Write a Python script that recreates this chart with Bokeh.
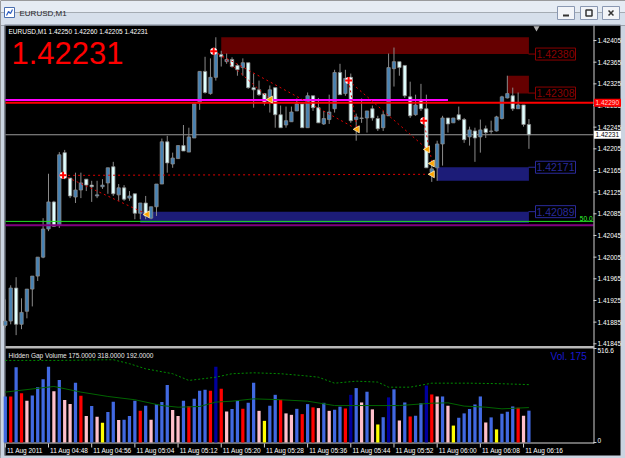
import numpy as np
from bokeh.plotting import figure
from bokeh.models import Range1d
from bokeh.embed import file_html
from bokeh.resources import INLINE
from bokeh.core.properties import value

# ---------------- data ----------------
symbol = "EURUSD"
timeframe = "M1"

opens = [1.41879, 1.41887, 1.41948, 1.41881, 1.41905, 1.41946, 1.41970, 1.42005, 1.42057, 1.42107,
         1.42064, 1.42198, 1.42151, 1.42116, 1.42129, 1.42149, 1.42138, 1.42118, 1.42135, 1.42142,
         1.42172, 1.42120, 1.42133, 1.42114, 1.42122, 1.42086, 1.42105, 1.42077, 1.42098, 1.42140,
         1.42218, 1.42177, 1.42187, 1.42211, 1.42199, 1.42225, 1.42290, 1.42348, 1.42307, 1.42337,
         1.42379, 1.42366, 1.42370, 1.42359, 1.42355, 1.42364, 1.42318, 1.42314, 1.42307, 1.42292,
         1.42318, 1.42268, 1.42249, 1.42255, 1.42275, 1.42288, 1.42244, 1.42303, 1.42281, 1.42251,
         1.42259, 1.42279, 1.42346, 1.42307, 1.42337, 1.42259, 1.42261, 1.42262, 1.42279, 1.42261,
         1.42244, 1.42266, 1.42353, 1.42366, 1.42359, 1.42301, 1.42268, 1.42296, 1.42279, 1.42161,
         1.42170, 1.42214, 1.42262, 1.42253, 1.42268, 1.42259, 1.42227, 1.42238, 1.42227, 1.42242,
         1.42237, 1.42238, 1.42261, 1.42299, 1.42303, 1.42279, 1.42286, 1.42250]
highs = [1.41927, 1.41953, 1.41968, 1.41929, 1.41946, 1.41970, 1.42005, 1.42077, 1.42159, 1.42109,
         1.42199, 1.42203, 1.42151, 1.42161, 1.42161, 1.42149, 1.42146, 1.42146, 1.42149, 1.42170,
         1.42181, 1.42140, 1.42138, 1.42127, 1.42122, 1.42105, 1.42118, 1.42098, 1.42140, 1.42224,
         1.42229, 1.42198, 1.42211, 1.42249, 1.42244, 1.42288, 1.42348, 1.42375, 1.42372, 1.42411,
         1.42386, 1.42381, 1.42374, 1.42362, 1.42372, 1.42364, 1.42344, 1.42331, 1.42307, 1.42322,
         1.42318, 1.42285, 1.42283, 1.42283, 1.42298, 1.42288, 1.42309, 1.42303, 1.42299, 1.42275,
         1.42305, 1.42351, 1.42362, 1.42351, 1.42344, 1.42270, 1.42298, 1.42275, 1.42285, 1.42266,
         1.42275, 1.42381, 1.42392, 1.42366, 1.42359, 1.42329, 1.42305, 1.42325, 1.42305, 1.42179,
         1.42220, 1.42266, 1.42262, 1.42262, 1.42283, 1.42262, 1.42246, 1.42244, 1.42259, 1.42248,
         1.42257, 1.42266, 1.42303, 1.42340, 1.42318, 1.42309, 1.42286, 1.42260]
lows = [1.41875, 1.41881, 1.41861, 1.41872, 1.41892, 1.41914, 1.41961, 1.42003, 1.42053, 1.42061,
        1.42059, 1.42149, 1.42114, 1.42105, 1.42114, 1.42127, 1.42107, 1.42114, 1.42131, 1.42122,
        1.42118, 1.42109, 1.42109, 1.42109, 1.42075, 1.42075, 1.42075, 1.42075, 1.42081, 1.42140,
        1.42161, 1.42170, 1.42187, 1.42201, 1.42199, 1.42225, 1.42277, 1.42307, 1.42305, 1.42331,
        1.42357, 1.42362, 1.42355, 1.42340, 1.42340, 1.42316, 1.42281, 1.42303, 1.42285, 1.42272,
        1.42244, 1.42244, 1.42244, 1.42255, 1.42275, 1.42244, 1.42244, 1.42275, 1.42253, 1.42249,
        1.42251, 1.42272, 1.42305, 1.42303, 1.42253, 1.42220, 1.42253, 1.42235, 1.42257, 1.42238,
        1.42238, 1.42266, 1.42320, 1.42340, 1.42299, 1.42262, 1.42266, 1.42275, 1.42170, 1.42144,
        1.42146, 1.42174, 1.42235, 1.42253, 1.42257, 1.42216, 1.42211, 1.42181, 1.42198, 1.42225,
        1.42233, 1.42237, 1.42259, 1.42298, 1.42275, 1.42279, 1.42246, 1.42205]
closes = [1.41887, 1.41948, 1.41881, 1.41903, 1.41946, 1.41970, 1.42005, 1.42057, 1.42107, 1.42062,
          1.42194, 1.42151, 1.42118, 1.42129, 1.42142, 1.42138, 1.42135, 1.42120, 1.42138, 1.42170,
          1.42122, 1.42133, 1.42112, 1.42118, 1.42086, 1.42105, 1.42081, 1.42098, 1.42140, 1.42218,
          1.42179, 1.42188, 1.42211, 1.42201, 1.42227, 1.42288, 1.42348, 1.42309, 1.42337, 1.42383,
          1.42375, 1.42370, 1.42357, 1.42351, 1.42364, 1.42318, 1.42314, 1.42305, 1.42290, 1.42314,
          1.42268, 1.42244, 1.42257, 1.42273, 1.42288, 1.42244, 1.42303, 1.42281, 1.42253, 1.42261,
          1.42273, 1.42346, 1.42305, 1.42335, 1.42257, 1.42264, 1.42262, 1.42275, 1.42262, 1.42242,
          1.42268, 1.42355, 1.42366, 1.42355, 1.42303, 1.42266, 1.42286, 1.42279, 1.42170, 1.42168,
          1.42214, 1.42262, 1.42251, 1.42262, 1.42259, 1.42222, 1.42240, 1.42225, 1.42240, 1.42235,
          1.42238, 1.42264, 1.42301, 1.42307, 1.42279, 1.42286, 1.42250, 1.42231]

volumes = [253, 253, 413, 271, 229, 258, 304, 348, 416, 282,
           343, 233, 211, 328, 257, 145, 200, 141, 108, 167,
           224, 123, 125, 145, 229, 174, 202, 125, 211, 222,
           316, 178, 145, 229, 200, 240, 284, 290, 284, 416,
           295, 171, 184, 229, 185, 218, 328, 174, 119, 202,
           262, 235, 160, 152, 185, 156, 211, 193, 189, 218,
           174, 180, 197, 187, 262, 299, 220, 279, 182, 99,
           139, 248, 292, 121, 220, 143, 147, 216, 313, 264,
           253, 253, 202, 93, 136, 160, 184, 209, 253, 110,
           138, 72, 158, 169, 198, 191, 147, 175]
# b=blue, r=red, p=pink, y=yellow, n=navy (indicator's bar classes)
volume_class = ("brbrpbbbbp" "bppbrpbpyb" "bpbbbrbpbb" "bppbrbbbrn" "rpbbrbbpyb"
                "brppbrbrpb" "pbbrnbpbpy" "bnbpbrbbnr" "pbpybbbbbp" "bybbbrpb")

vol_ma_bars = [0, 9, 14, 19, 24, 29, 32, 36, 39, 42, 46, 51, 56, 61, 67, 73, 79, 82, 85, 89, 92, 97]
vol_ma_vals = [277, 308, 277, 253, 235, 203, 194, 198, 222, 227, 240, 235, 227, 203, 203, 203, 216, 218, 200, 194, 185, 192]
vol_band_bars = [0, 10, 20, 23, 26, 31, 34, 39, 42, 46, 51, 55, 58, 61, 65, 69, 71, 75, 79, 86, 92, 97]
vol_band_vals = [451, 451, 455, 433, 405, 378, 341, 359, 378, 383, 378, 368, 359, 326, 337, 332, 304, 304, 326, 326, 323, 318]
vol_axis_max = 516.6

time_tick_bars = [0, 8, 16, 24, 32, 40, 48, 56, 64, 72, 80, 88, 96]
time_tick_labels = ["11 Aug 2011", "11 Aug 04:48", "11 Aug 04:56", "11 Aug 05:04", "11 Aug 05:12",
                    "11 Aug 05:20", "11 Aug 05:28", "11 Aug 05:36", "11 Aug 05:44", "11 Aug 05:52",
                    "11 Aug 06:00", "11 Aug 06:08", "11 Aug 06:16"]
price_ticks = [1.42405, 1.42365, 1.42325, 1.42285, 1.42245, 1.42205, 1.42165, 1.42125,
               1.42085, 1.42045, 1.42005, 1.41965, 1.41925, 1.41885, 1.41845]

# supply / demand zones
zone_from = [40, 93, 80, 25]
zone_to = [97, 97, 97, 97]
zone_high = [1.42411, 1.42340, 1.42171, 1.42089]
zone_low = [1.42380, 1.42307, 1.42146, 1.42068]
zone_kind = ["supply", "supply", "demand", "demand"]
zone_label = [1.42380, 1.42308, 1.42171, 1.42089]

level_red = 1.42290
level_magenta = 1.42295
magenta_to_bar = 82
fibo_50 = 1.42071
fibo_base = 1.42064

# signal lines (bar, price) pairs
sig_x0 = [10.7, 10.7, 38.6, 39.5, 63.6, 63.6, 77.5]
sig_y0 = [1.42156, 1.42156, 1.42385, 1.42381, 1.42331, 1.42331, 1.42257]
sig_x1 = [79.1, 26.3, 65.2, 49.1, 78.2, 65.2, 79.1]
sig_y1 = [1.42158, 1.42084, 1.42241, 1.42296, 1.42204, 1.42241, 1.42178]
cross_x = [10.7, 38.6, 63.6, 77.5]
cross_y = [1.42156, 1.42385, 1.42331, 1.42257]
arrow_x = [26.3, 49.1, 65.2, 78.2, 79.1, 79.1]
arrow_y = [1.42084, 1.42296, 1.42241, 1.42204, 1.42178, 1.42158]

# ---------------- figure ----------------
W, H = 625, 458
p = figure(width=W, height=H, output_backend="svg", toolbar_location=None, title=None,
           x_range=Range1d(-0.893, 114.89), y_range=Range1d(1.416332, 1.424789),
           x_axis_type=None, y_axis_type=None, min_border=0)
p.background_fill_color = "black"
p.border_fill_color = "black"
p.outline_line_color = None
p.grid.visible = False
p.extra_x_ranges = {"px": Range1d(0, W)}
p.extra_y_ranges = {"py": Range1d(H, 0), "vol": Range1d(-87.93, 2429.1)}

FONT = value("Liberation Sans")


def pquad(l, r, t, b, fill, line=None, lw=1):
    p.quad(left=[l], right=[r], top=[t], bottom=[b], fill_color=fill, line_color=line,
           line_width=lw, x_range_name="px", y_range_name="py")


def pline(xs, ys, color, lw=1, xr="px", yr="py", dash="solid"):
    p.line(x=xs, y=ys, line_color=color, line_width=lw, line_dash=dash,
           x_range_name=xr, y_range_name=yr)


def ptext(xs, ys, texts, color, size, align="left", baseline="middle", xr="px", yr="py"):
    p.text(x=xs, y=ys, text=texts, text_color=color, text_font=FONT, text_font_size=size,
           text_align=align, text_baseline=baseline, x_range_name=xr, y_range_name=yr)


# window chrome
pquad(0, W, 0, 12, "#E6ECF4")
pquad(0, W, 12, 25, "#D6DFEB")
pquad(0, 4, 25, H, "#CBD4E1")
pquad(620, W, 25, H, "#CBD4E1")
pquad(0, W, 455, H, "#CBD4E1")
pline([4.5, 4.5], [25, 455], "#9098A8")
pline([4, 620], [24.5, 24.5], "#7C8494")
# icon
pquad(4, 14, 7, 17, "#FFFFFF", "#4A6FB0")
pline([6, 8, 10, 12], [15, 11, 13, 9], "#2A5CC0", lw=1.2)
ptext([19], [12.5], [f"{symbol},{timeframe}"], "#1E1E1E", "8px")
# window buttons
for bx in (557, 580, 602):
    pquad(bx, bx + 17, 6, 19, "#F2F4F8", "#8A98B2")
p.scatter(x=[565.5], y=[15], marker="dash", size=6, line_color="#333333", line_width=2,
          x_range_name="px", y_range_name="py")
p.scatter(x=[588.5], y=[12.5], marker="square", size=6, fill_color=None, line_color="#333333",
          line_width=1.5, x_range_name="px", y_range_name="py")
p.scatter(x=[610.5], y=[12.5], marker="x", size=7, line_color="#333333", line_width=1.5,
          x_range_name="px", y_range_name="py")

# zones (behind candles)
zone_fill = ["#650000" if k == "supply" else "#1C1C78" for k in zone_kind]
p.quad(left=zone_from, right=zone_to, top=zone_high, bottom=zone_low, fill_color=zone_fill,
       line_color=None)

# current price line
p.line(x=[5, 593], y=[closes[-1]] * 2, line_color="#9A9A9A", line_width=1, x_range_name="px")

# candles
bars = np.arange(len(opens))
o = np.array(opens)
c = np.array(closes)
body_top = np.maximum(o, c)
body_bot = np.minimum(o, c)
body_col = np.where(c >= o, "#4682B4", "#E0FFFF")
p.segment(x0=bars, y0=highs, x1=bars, y1=lows, line_color="#8A8A8A", line_width=1)
p.vbar(x=bars, top=body_top, bottom=body_bot, width=0.62, fill_color=body_col,
       line_color="#8A8A8A", line_width=0.8)

# level lines
p.line(x=[0, magenta_to_bar], y=[level_magenta] * 2, line_color="#FF00FF", line_width=2)
p.line(x=[5, 593], y=[level_red] * 2, line_color="#FF0000", line_width=2, x_range_name="px")
p.line(x=[5, 593], y=[fibo_50] * 2, line_color="#22DD22", line_width=1, x_range_name="px")
p.line(x=[5, 593], y=[fibo_base] * 2, line_color="#800080", line_width=2, x_range_name="px")
p.text(x=[592], y=[fibo_50], text=["50.0"], text_color="#33FF33", text_font=FONT,
       text_font_size="6.5px", text_align="right", text_baseline="bottom", x_range_name="px")

# signals
p.segment(x0=sig_x0, y0=sig_y0, x1=sig_x1, y1=sig_y1, line_color="#E00000", line_width=1,
          line_dash="2 3")
p.scatter(x=cross_x, y=cross_y, marker="circle", size=7, fill_color="white", line_color=None)
p.scatter(x=cross_x, y=cross_y, marker="cross", size=7, line_color="#FF0000", line_width=2)
p.scatter(x=arrow_x, y=arrow_y, marker="triangle", angle=np.pi / 2, size=7,
          fill_color="#FFA500", line_color="#FFF0C0", line_width=0.8)

# zone labels
lab_col = ["#8B0000" if k == "supply" else "#2A2A9A" for k in zone_kind]
for yv, col in zip(zone_label, lab_col):
    p.line(x=[528, 535], y=[yv, yv], line_color=col, line_width=1, x_range_name="px")
p.rect(x=[555] * 4, y=zone_label, width=40, height=12, width_units="screen",
       height_units="screen", fill_color="black", line_color=lab_col, line_width=1,
       x_range_name="px")
p.text(x=[555] * 4, y=zone_label, text=[f"{v:.5f}" for v in zone_label], text_color=lab_col,
       text_font=FONT, text_font_size="10.5px", text_align="center", text_baseline="middle",
       x_range_name="px")

# chart frame lines
pline([593.5, 593.5], [25, 443], "#D0D0D0")
pquad(5, 593.5, 345.5, 348, "#B8B8B8")
pline([5, 593.5], [442.5, 442.5], "#D8D8D8")

# price axis
p.segment(x0=[593] * len(price_ticks), y0=price_ticks, x1=[596] * len(price_ticks),
          y1=price_ticks, line_color="#D0D0D0", x_range_name="px")
p.text(x=[597] * len(price_ticks), y=price_ticks, text=[f"{v:.5f}" for v in price_ticks],
       text_color="white", text_font=FONT, text_font_size="6.5px", text_baseline="middle",
       x_range_name="px")
# price tags
p.rect(x=[607], y=[level_red], width=27, height=8, width_units="screen", height_units="screen",
       fill_color="#FF0000", line_color=None, x_range_name="px")
p.text(x=[595], y=[level_red], text=[f"{level_red:.5f}"], text_color="#FFD0D0", text_font=FONT,
       text_font_size="6.5px", text_baseline="middle", x_range_name="px")
p.rect(x=[607], y=[closes[-1]], width=27, height=8, width_units="screen", height_units="screen",
       fill_color="white", line_color=None, x_range_name="px")
p.text(x=[595], y=[closes[-1]], text=[f"{closes[-1]:.5f}"], text_color="black", text_font=FONT,
       text_font_size="6.5px", text_baseline="middle", x_range_name="px")
p.scatter(x=[536], y=[27.5], marker="inverted_triangle", size=6, fill_color="#B0B0B0",
          line_color=None, x_range_name="px", y_range_name="py")

# time axis
tb = np.array(time_tick_bars)
p.segment(x0=tb, y0=[443] * len(tb), x1=tb, y1=[447] * len(tb), line_color="#D0D0D0",
          y_range_name="py")
p.text(x=tb + 0.3, y=[449.5] * len(tb), text=time_tick_labels, text_color="white",
       text_font=FONT, text_font_size="6.5px", text_baseline="middle", y_range_name="py")

# volume panel
vcolors = {"b": "#4169E1", "r": "#FF0000", "p": "#FFC0CB", "y": "#FFFF00", "n": "#00009C"}
p.vbar(x=bars, top=volumes, bottom=0, width=0.6, fill_color=[vcolors[k] for k in volume_class],
       line_color=None, y_range_name="vol")
p.line(x=vol_band_bars, y=vol_band_vals, line_color="#008C00", line_width=1, line_dash="2 2",
       y_range_name="vol")
p.line(x=vol_ma_bars, y=vol_ma_vals, line_color="#006400", line_width=1, y_range_name="vol")
p.text(x=[597, 597], y=[vol_axis_max, 0], text=[f"{vol_axis_max:.1f}", "0"], text_color="white",
       text_font=FONT, text_font_size="6.5px", text_baseline=["top", "bottom"],
       x_range_name="px", y_range_name="vol")
p.segment(x0=[593, 593], y0=[vol_axis_max, 0], x1=[596, 596], y1=[vol_axis_max, 0],
          line_color="#D0D0D0", x_range_name="px", y_range_name="vol")
ptext([8], [355], [f"Hidden Gap Volume {volumes[-1]:.4f} {vol_band_vals[-1]:.4f} {vol_ma_vals[-1]:.4f}"],
      "#E8E8E8", "6.5px")
ptext([589], [355.5], [f"Vol.  {volumes[-1]}"], "#1818D0", "10px", align="right")

# headers
ptext([8], [31], [f"{symbol},{timeframe}  {opens[-1]:.5f} {highs[-1]:.5f} {lows[-1]:.5f} {closes[-1]:.5f}"],
      "white", "6.5px")
ptext([11], [52], [f"{closes[-1]:.5f}"], "#FF0000", "31px")

open("out.html", "w").write(file_html(p, INLINE))
